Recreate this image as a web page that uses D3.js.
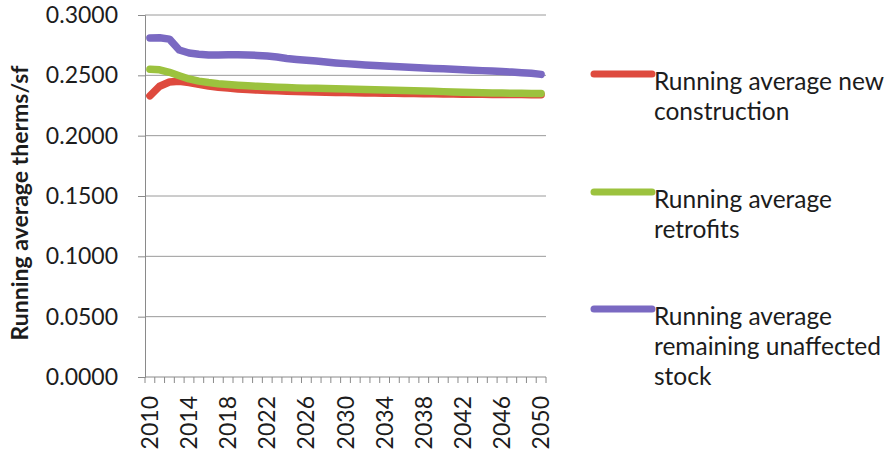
<!DOCTYPE html>
<html>
<head>
<meta charset="utf-8">
<script src="https://cdn.jsdelivr.net/npm/d3@7"></script>
<style>
  html, body { margin: 0; padding: 0; background: #ffffff; }
  svg { display: block; }
  text { font-family: Lato, "Open Sans", sans-serif; fill: #1c1c1c; }
</style>
</head>
<body>
<svg id="chart" width="894" height="457"></svg>
<script>
// Years on the category axis
const years = d3.range(2010, 2051);

// Running average therms per square foot, one value per year
const newConstruction = [
  0.2330, 0.2410, 0.2445, 0.2450, 0.2440, 0.2425, 0.2412, 0.2402, 0.2394, 0.2387,
  0.2382, 0.2378, 0.2375, 0.2372, 0.2369, 0.2366, 0.2364, 0.2362, 0.2360, 0.2358,
  0.2357, 0.2355, 0.2354, 0.2353, 0.2352, 0.2351, 0.2350, 0.2349, 0.2348, 0.2347,
  0.2346, 0.2345, 0.2344, 0.2343, 0.2343, 0.2342, 0.2342, 0.2341, 0.2341, 0.2340,
  0.2340
];
const retrofits = [
  0.2550, 0.2546, 0.2525, 0.2497, 0.2470, 0.2452, 0.2440, 0.2431, 0.2424, 0.2418,
  0.2413, 0.2409, 0.2405, 0.2402, 0.2399, 0.2396, 0.2394, 0.2392, 0.2390, 0.2388,
  0.2386, 0.2384, 0.2382, 0.2380, 0.2378, 0.2376, 0.2374, 0.2372, 0.2370, 0.2368,
  0.2365, 0.2362, 0.2359, 0.2357, 0.2355, 0.2354, 0.2353, 0.2352, 0.2351, 0.2350,
  0.2349
];
const unaffectedStock = [
  0.2810, 0.2812, 0.2800, 0.2710, 0.2685, 0.2675, 0.2668, 0.2668, 0.2670, 0.2670,
  0.2668, 0.2665, 0.2660, 0.2652, 0.2640, 0.2632, 0.2625, 0.2618, 0.2610, 0.2603,
  0.2597, 0.2591, 0.2586, 0.2581, 0.2577, 0.2573, 0.2569, 0.2565, 0.2561, 0.2557,
  0.2554, 0.2550, 0.2547, 0.2543, 0.2539, 0.2535, 0.2531, 0.2527, 0.2522, 0.2517,
  0.2508
];

const seriesNames = [
  ["Running average new", "construction"],
  ["Running average", "retrofits"],
  ["Running average", "remaining unaffected", "stock"]
];
const seriesColors = ["#de4a3e", "#9cc23e", "#7a69c2"];
const yTicks = [0, 0.05, 0.10, 0.15, 0.20, 0.25, 0.30];
const xLabelYears = years.filter(y => (y - 2010) % 4 === 0);
const yTitle = "Running average therms/sf";

const series = [newConstruction, retrofits, unaffectedStock].map((vals, i) => ({
  name: seriesNames[i], color: seriesColors[i],
  points: years.map((yr, j) => ({ year: yr, value: vals[j] }))
}));

const svg = d3.select("#chart");
const plot = { left: 145, right: 546, top: 15, bottom: 377 };

const x = d3.scaleBand().domain(years).range([plot.left, plot.right]).padding(0);
const y = d3.scaleLinear().domain([0, 0.3]).range([plot.bottom, plot.top]);
const cx = yr => x(yr) + x.bandwidth() / 2;

// Horizontal gridlines
svg.append("g").selectAll("line").data(yTicks.filter(t => t > 0)).join("line")
  .attr("x1", plot.left).attr("x2", plot.right)
  .attr("y1", d => y(d)).attr("y2", d => y(d))
  .attr("stroke", "#9a9a9a").attr("stroke-width", 1);

// Value axis
const yAxis = svg.append("g").attr("transform", `translate(${plot.left},0)`)
  .call(d3.axisLeft(y).tickValues(yTicks).tickFormat(d3.format(".4f")).tickSize(7).tickPadding(20));
yAxis.select(".domain").attr("stroke", "#8a8a8a");
yAxis.selectAll(".tick line").attr("stroke", "#8a8a8a");
yAxis.selectAll(".tick text").attr("font-size", 23).attr("fill", "#1c1c1c")
  .attr("font-family", "Lato, 'Open Sans', sans-serif");

// Category axis: ticks on the boundaries between years
const xAxisG = svg.append("g");
xAxisG.append("line")
  .attr("x1", plot.left).attr("x2", plot.right)
  .attr("y1", plot.bottom).attr("y2", plot.bottom)
  .attr("stroke", "#8a8a8a");
const boundaries = years.map(yr => x(yr)).concat([plot.right]);
xAxisG.selectAll("line.tk").data(boundaries).join("line").attr("class", "tk")
  .attr("x1", d => d).attr("x2", d => d)
  .attr("y1", plot.bottom).attr("y2", plot.bottom + 6)
  .attr("stroke", "#8a8a8a");
xAxisG.selectAll("text").data(xLabelYears).join("text")
  .attr("transform", d => `translate(${cx(d) + 8},${plot.bottom + 19}) rotate(-90)`)
  .attr("text-anchor", "end")
  .attr("font-size", 23)
  .text(d => d);

// Axis title
svg.append("text")
  .attr("transform", `translate(28,${(plot.top + plot.bottom) / 2 + 7}) rotate(-90)`)
  .attr("text-anchor", "middle")
  .attr("font-size", 23).attr("font-weight", "bold")
  .text(yTitle);

// Series lines
const line = d3.line().x(d => cx(d.year)).y(d => y(d.value)).curve(d3.curveLinear);
svg.append("g").selectAll("path").data(series).join("path")
  .attr("d", d => line(d.points))
  .attr("fill", "none")
  .attr("stroke", d => d.color)
  .attr("stroke-width", 7.5)
  .attr("stroke-linecap", "round")
  .attr("stroke-linejoin", "round");

// Legend
const legendY = [74, 192, 309];
const legend = svg.append("g");
series.forEach((s, i) => {
  const g = legend.append("g").attr("transform", `translate(0,${legendY[i]})`);
  g.append("line").attr("x1", 594).attr("x2", 652).attr("y1", 0).attr("y2", 0)
    .attr("stroke", s.color).attr("stroke-width", 7).attr("stroke-linecap", "round");
  s.name.forEach((ln, k) => {
    g.append("text").attr("x", 654).attr("y", 16 + k * 30)
      .attr("font-size", 24.5).text(ln);
  });
});
</script>
</body>
</html>
